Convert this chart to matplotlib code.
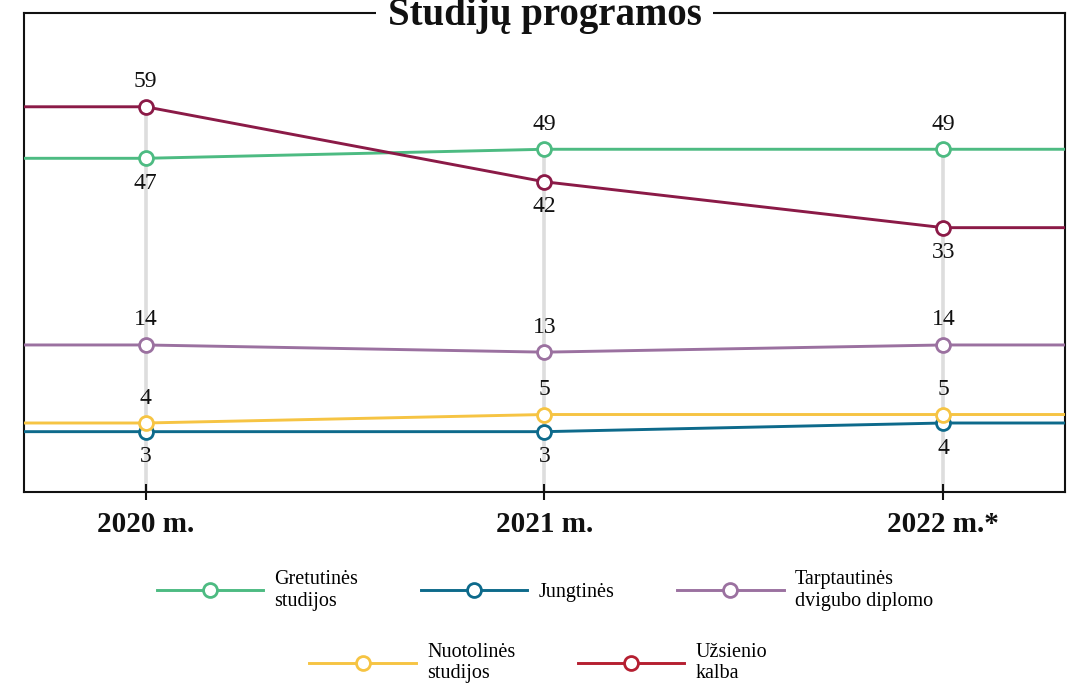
import numpy as np
import matplotlib
matplotlib.use("Agg")
import matplotlib.pyplot as plt
from matplotlib.lines import Line2D

# ---- data ----
years = ["2020 m.", "2021 m.", "2022 m.*"]
gretutines = [47, 49, 49]
jungtines = [3, 3, 4]
tarptautines = [14, 13, 14]
nuotolines = [4, 5, 5]
uzsienio = [59, 42, 33]

series_names = ["Gretutinės\nstudijos", "Jungtinės", "Tarptautinės\ndvigubo diplomo",
                "Nuotolinės\nstudijos", "Užsienio\nkalba"]

# ---- styles ----
colors = ["#4dbb82", "#0d6a8b", "#9b71a0", "#f6c443", "#8b1a47"]
legend_colors = ["#4dbb82", "#0d6a8b", "#9b71a0", "#f6c443", "#b51f31"]
# label placement: +1 above, -1 below
placements = [[-1, 1, 1], [-1, -1, -1], [1, 1, 1], [1, 1, 1], [1, -1, -1]]

serif = ["Liberation Serif", "DejaVu Serif"]
plt.rcParams["font.family"] = serif

fig = plt.figure(figsize=(10.7, 6.85), dpi=100)
W, H = 1070, 685
left, right, top, bottom = 24, 1065, 12.7, 492.3
ax = fig.add_axes([left / W, 1 - bottom / H, (right - left) / W, (bottom - top) / H])

OFF = 45.0
ax.set_yscale("function", functions=(lambda v: np.log(np.asarray(v) + OFF),
                                     lambda t: np.exp(t) - OFF))
ylo, yhi = -3.45, 85.1
xlo, xhi = -0.305, 2.305
ax.set_ylim(ylo, yhi)
ax.set_xlim(xlo, xhi)

data = [gretutines, jungtines, tarptautines, nuotolines, uzsienio]
x = np.arange(len(years))

# gray verticals from axis to top point
tops = np.max(np.array(data), axis=0)
ax.vlines(x, ylo, tops, color="#dddddd", lw=2.6, zorder=1)

for vals, c, pl in zip(data, colors, placements):
    xe = [xlo] + list(x) + [xhi]
    ye = [vals[0]] + list(vals) + [vals[-1]]
    ax.plot(xe, ye, color=c, lw=2.1, zorder=3, solid_capstyle="butt")
    ax.plot(x, vals, ls="none", marker="o", ms=10, mfc="white", mec=c, mew=2,
            zorder=4)
    for xi, v, p in zip(x, vals, pl):
        ax.annotate(str(v), (xi, v), xytext=(0, 18 * p), textcoords="offset points",
                    ha="center", va="center", fontsize=17, color="#111111",
                    zorder=5)

for s in ax.spines.values():
    s.set_linewidth(1.5)
    s.set_color("#111111")
ax.set_yticks([])
ax.set_xticks(x)
ax.set_xticklabels(years, fontsize=21, fontweight="bold", color="#111111")
ax.tick_params(axis="x", direction="inout", length=11.5, width=1.5,
               color="#111111", pad=8)
ax.yaxis.set_minor_locator(matplotlib.ticker.NullLocator())

# title over top border
fig.text(0.509, 1 - 25 / H, "Studijų programos", ha="center", va="baseline",
         fontsize=28, fontweight="bold", color="#111111",
         bbox=dict(facecolor="white", edgecolor="none", pad=8), zorder=10)

# legend
def handle(c):
    return Line2D([0], [0], color=c, lw=2.1, marker="o", ms=10, mfc="white",
                  mec=c, mew=2)

h = [handle(c) for c in legend_colors]
leg_kw = dict(frameon=False, fontsize=14.5, handlelength=5.3, handletextpad=0.55,
              columnspacing=3.1, borderpad=0, borderaxespad=0, labelspacing=0)
fig.legend(h[:3], series_names[:3], ncol=3, loc="center",
           bbox_to_anchor=(0.509, 1 - 590.5 / H), **leg_kw)
fig.legend(h[3:], series_names[3:], ncol=2, loc="center",
           bbox_to_anchor=(0.503, 1 - 663 / H), **leg_kw)

fig.savefig("out.png", dpi=100)
